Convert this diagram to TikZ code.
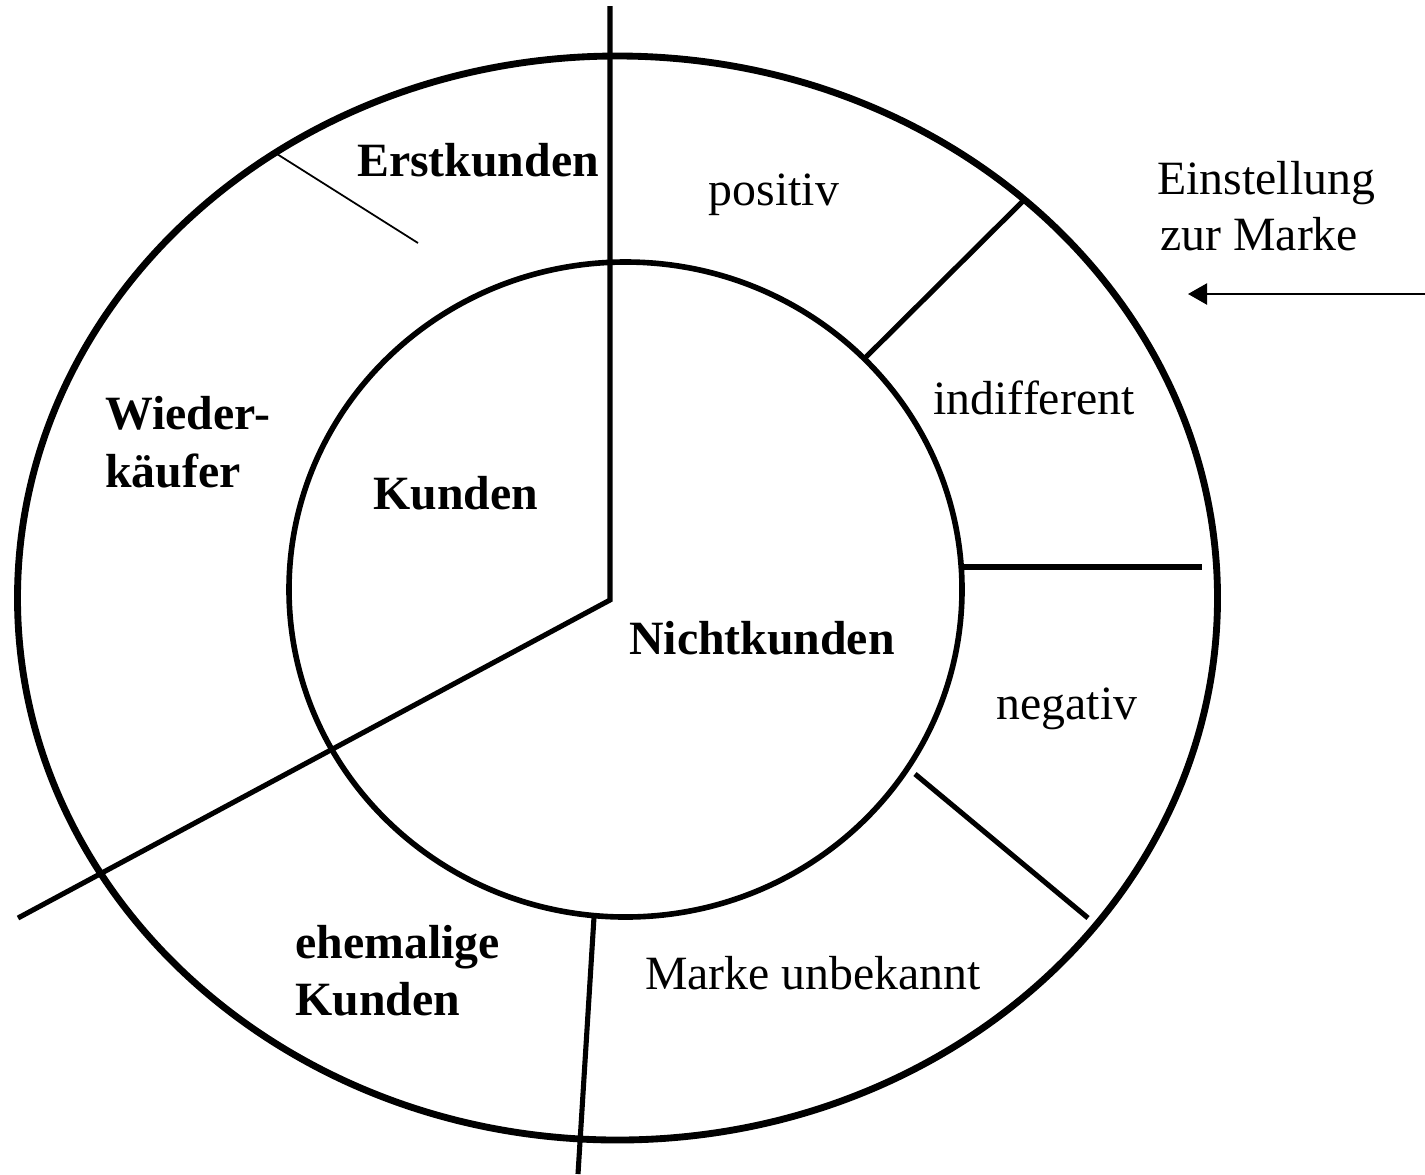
\documentclass[tikz,border=0pt]{standalone}
\usepackage{fontspec}
\setmainfont{Liberation Serif}
\usetikzlibrary{arrows.meta}

\tikzset{
  outerring/.style={line width=3.9pt},
  innerring/.style={line width=3.2pt},
  divider/.style={line width=2.9pt},
  thindivider/.style={line width=1pt},
  pointer/.style={line width=1.3pt, -{Triangle[length=0.38cm, width=0.42cm]}},
  label/.style={inner sep=0pt, font=\fontsize{27.2}{32}\selectfont},
  boldlabel/.style={label, font=\fontsize{27.2}{32}\selectfont\bfseries},
}

\begin{document}
\begin{tikzpicture}[x=0.02cm, y=-0.02cm]
  \useasboundingbox (0,0) rectangle (1425,1174);

  % rings
  \draw[outerring] (617.5,598) ellipse [x radius=600, y radius=542];
  \draw[innerring] (625.5,589.5) ellipse [x radius=336.5, y radius=327.5];

  % segment boundaries
  \coordinate (hub)     at (610,600);
  \coordinate (topend)  at (610,6);
  \coordinate (swend)   at (18,918);
  \coordinate (botin)   at (594,917);
  \coordinate (botend)  at (578,1174);
  \coordinate (wkin)    at (418,243);
  \coordinate (wkout)   at (277,154);
  \coordinate (piin)    at (865,358);
  \coordinate (piout)   at (1023,201);
  \coordinate (inin)    at (962,567);
  \coordinate (inout)   at (1202,567);
  \coordinate (nuin)    at (915,774);
  \coordinate (nuout)   at (1088,918);

  \draw[divider] (topend) -- (hub) -- (swend);
  \draw[divider] (botin) -- (botend);
  \draw[thindivider] (wkin) -- (wkout);
  \draw[divider] (piin) -- (piout);
  \draw[divider] (inin) -- (inout);
  \draw[divider] (nuin) -- (nuout);

  % arrow pointing at the attitude segments
  \coordinate (arrstart) at (1425,294);
  \coordinate (arrtip)   at (1188,294);
  \draw[pointer] (arrstart) -- (arrtip);

  % labels of the customer groups
  \node[boldlabel, anchor=base] (erst) at (478,176) {Erstkunden};
  \node[boldlabel, anchor=base west] (wied1) at (105,429) {Wieder-};
  \node[boldlabel, anchor=base west] (wied2) at (105,487) {käufer};
  \node[boldlabel, anchor=base] (kunden) at (456,509) {Kunden};
  \node[boldlabel, anchor=base] (nicht) at (762,654) {Nichtkunden};
  \node[boldlabel, anchor=base west] (ehem1) at (295,958) {ehemalige};
  \node[boldlabel, anchor=base west] (ehem2) at (295,1015) {Kunden};

  % labels of the attitude segments
  \node[label, anchor=base] (pos) at (774,205) {positiv};
  \node[label, anchor=base] (ind) at (1034,414) {indifferent};
  \node[label, anchor=base] (neg) at (1067,719) {negativ};
  \node[label, anchor=base] (unb) at (813,989) {Marke unbekannt};
  \node[label, anchor=base west] (einst1) at (1157,194) {Einstellung};
  \node[label, anchor=base west] (einst2) at (1160,250) {zur Marke};
\end{tikzpicture}
\end{document}
